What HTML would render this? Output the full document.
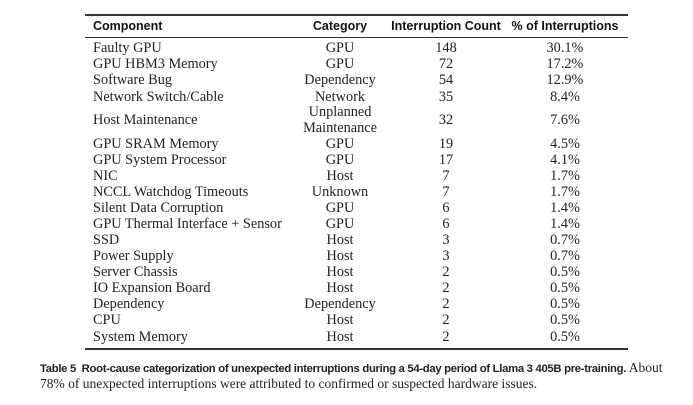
<!DOCTYPE html>
<html><head><style>
body{margin:0;width:693px;height:405px;background:#fff;position:relative;overflow:hidden;font-family:"Liberation Serif",serif;color:#222}
.r{position:absolute;font-size:14.3px;line-height:16px;white-space:nowrap}
.h{position:absolute;font-family:"Liberation Sans",sans-serif;font-weight:bold;font-size:12.5px;top:19px;color:#111}
.c{transform:translateX(-50%);text-align:center}
.rule{position:absolute;left:85px;width:543px;background:#333}
.cap{position:absolute;left:40px;font-size:13.5px;line-height:16px;white-space:nowrap}
.cap b{font-family:"Liberation Sans",sans-serif;font-size:11.3px;letter-spacing:-0.3px}
</style></head><body>
<div class="rule" style="top:14px;height:2px"></div>
<div class="h" style="left:93px">Component</div>
<div class="h c" style="left:340px">Category</div>
<div class="h c" style="left:446px">Interruption Count</div>
<div class="h c" style="left:565px">% of Interruptions</div>
<div class="rule" style="top:37px;height:1px"></div>
<div id="rows"></div>
<div class="rule" style="top:348px;height:2px"></div>
<div class="cap" style="top:360px"><b>Table 5&nbsp; Root-cause categorization of unexpected interruptions during a 54-day period of Llama 3 405B pre-training.</b> About</div>
<div class="cap" style="top:376px">78% of unexpected interruptions were attributed to confirmed or suspected hardware issues.</div>
<script>
var d=[["Faulty GPU","GPU",148,"30.1%",40],["GPU HBM3 Memory","GPU",72,"17.2%",56],["Software Bug","Dependency",54,"12.9%",72],["Network Switch/Cable","Network",35,"8.4%",89],["Host Maintenance","",32,"7.6%",112],["GPU SRAM Memory","GPU",19,"4.5%",136],["GPU System Processor","GPU",17,"4.1%",152],["NIC","Host",7,"1.7%",168],["NCCL Watchdog Timeouts","Unknown",7,"1.7%",184],["Silent Data Corruption","GPU",6,"1.4%",200],["GPU Thermal Interface + Sensor","GPU",6,"1.4%",216],["SSD","Host",3,"0.7%",232],["Power Supply","Host",3,"0.7%",248],["Server Chassis","Host",2,"0.5%",264],["IO Expansion Board","Host",2,"0.5%",280],["Dependency","Dependency",2,"0.5%",296],["CPU","Host",2,"0.5%",312],["System Memory","Host",2,"0.5%",329]];
var h="";d.forEach(function(r){var t=r[4];
h+='<div class="r" style="left:93px;top:'+t+'px">'+r[0]+'</div>';
if(r[1])h+='<div class="r c" style="left:340px;top:'+t+'px">'+r[1]+'</div>';
else h+='<div class="r c" style="left:340px;top:104px">Unplanned</div><div class="r c" style="left:340px;top:120px">Maintenance</div>';
h+='<div class="r c" style="left:446px;top:'+t+'px">'+r[2]+'</div>';
h+='<div class="r c" style="left:565px;top:'+t+'px">'+r[3]+'</div>';});
document.getElementById("rows").innerHTML=h;
</script>
</body></html>
